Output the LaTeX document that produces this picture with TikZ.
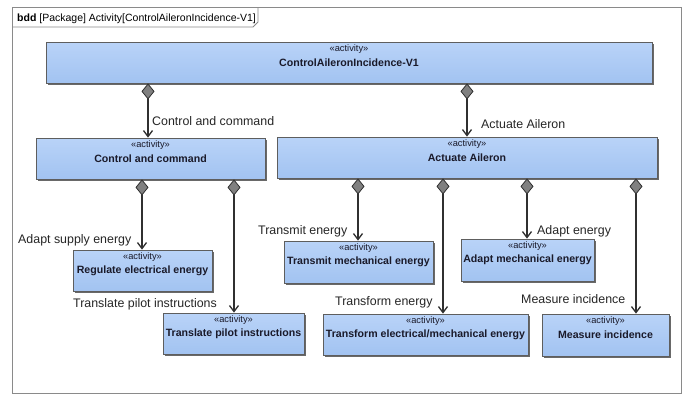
\documentclass[tikz,border=0pt]{standalone}
\usepackage{fontspec}
\setmainfont{Liberation Sans}
\usetikzlibrary{arrows.meta,shadows}

\definecolor{boxtop}{HTML}{B9D3F8}
\definecolor{boxbot}{HTML}{A2C3F1}
\definecolor{boxline}{HTML}{5E5E5E}
\definecolor{linecol}{HTML}{303030}
\definecolor{diafill}{HTML}{808080}
\definecolor{framecol}{HTML}{8A8A8A}
\definecolor{txtcol}{HTML}{1A1A2A}

\tikzset{
  actbox/.style={rectangle, draw=boxline, line width=0.8pt,
    top color=boxtop, bottom color=boxbot, inner sep=0pt,
    font=\fontsize{10.6}{12}\selectfont\bfseries, text=txtcol,
    drop shadow={shadow xshift=2.2pt, shadow yshift=-2.2pt, fill=black!65, opacity=0.9},
    label={[stereo]north:«activity»}},
  stereo/.style={anchor=north, inner sep=0pt, yshift=-3pt,
    font=\fontsize{9.3}{10}\selectfont, text=txtcol},
  comp/.style={draw=linecol, line width=1.3pt,
    arrows={Turned Square[length=16pt,width=13pt,fill=diafill,line width=0.8pt]-Straight Barb[length=6pt,width=9pt]}},
  rolelbl/.style={anchor=base west, inner sep=0pt,
    font=\fontsize{12.4}{14}\selectfont, text=black!85},
}

\begin{document}
\begin{tikzpicture}[x=1pt,y=-1pt]
\useasboundingbox[fill=white] (0,0) rectangle (687,397);

% diagram frame and name tab
\draw[framecol, line width=1pt] (12,7) rectangle (681,393);
\draw[framecol, line width=0.9pt] (12,27) -- (253,27) -- (258,22) -- (258,7);
\node[anchor=base west, inner sep=0pt, font=\fontsize{10.5}{12}\selectfont] (tab)
  at (17,21) {\textbf{bdd} [Package] Activity[ControlAileronIncidence-V1]};

% activity blocks
\node[actbox, minimum width=606pt, minimum height=41pt] (top) at (349,62.5) {ControlAileronIncidence-V1};
\node[actbox, minimum width=229pt, minimum height=41pt] (cc)  at (150.5,158.5) {Control and command};
\node[actbox, minimum width=380pt, minimum height=41pt] (aa)  at (467,157.5) {Actuate Aileron};
\node[actbox, minimum width=139pt, minimum height=41pt] (reg) at (142.5,270.5) {Regulate electrical energy};
\node[actbox, minimum width=141pt, minimum height=41pt] (tpi) at (233.5,333.5) {Translate pilot instructions};
\node[actbox, minimum width=149pt, minimum height=42pt] (tme) at (358.5,262) {Transmit mechanical energy};
\node[actbox, minimum width=205pt, minimum height=41pt] (tem) at (425.5,334.5) {Transform electrical/mechanical energy};
\node[actbox, minimum width=133pt, minimum height=42pt] (ame) at (527.5,260) {Adapt mechanical energy};
\node[actbox, minimum width=127pt, minimum height=42pt] (mi)  at (605.5,335) {Measure incidence};

% x positions of the composition links
\coordinate (xcc)  at (148,0);
\coordinate (xaa)  at (467,0);
\coordinate (xreg) at (142,0);
\coordinate (xtpi) at (234,0);
\coordinate (xtme) at (358,0);
\coordinate (xtem) at (443,0);
\coordinate (xame) at (527,0);
\coordinate (xmi)  at (636,0);

% composition links
\draw[comp] (top.south -| xcc)  -- (cc.north -| xcc);
\draw[comp] (top.south -| xaa)  -- (aa.north -| xaa);
\draw[comp] (cc.south -| xreg)  -- (reg.north -| xreg);
\draw[comp] (cc.south -| xtpi)  -- (tpi.north -| xtpi);
\draw[comp] (aa.south -| xtme)  -- (tme.north -| xtme);
\draw[comp] (aa.south -| xtem)  -- (tem.north -| xtem);
\draw[comp] (aa.south -| xame)  -- (ame.north -| xame);
\draw[comp] (aa.south -| xmi)   -- (mi.north -| xmi);

% role names
\node[rolelbl] (lcc)  at (152,125)  {Control and command};
\node[rolelbl] (laa)  at (481,128.5) {Actuate Aileron};
\node[rolelbl] (lreg) at (18,243.5) {Adapt supply energy};
\node[rolelbl] (ltpi) at (73,307.5) {Translate pilot instructions};
\node[rolelbl] (ltme) at (258,234.5) {Transmit energy};
\node[rolelbl] (ltem) at (335,305.5) {Transform energy};
\node[rolelbl] (lame) at (537,234.5) {Adapt energy};
\node[rolelbl] (lmi)  at (521,303.5) {Measure incidence};
\end{tikzpicture}
\end{document}
